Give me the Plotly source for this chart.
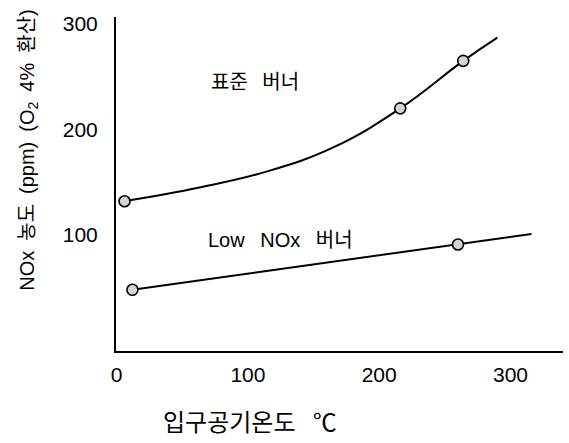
import plotly.graph_objects as go

# Standard burner (표준 버너): curve
std_curve_x = [6, 63, 114, 165, 216, 264, 290]
std_curve_y = [132, 145, 160, 183, 220, 265, 287]
std_mark_x = [6, 216, 264]
std_mark_y = [132, 220, 265]

# Low NOx burner
low_curve_x = [12, 260, 316]
low_curve_y = [48, 91, 101]
low_mark_x = [12, 260]
low_mark_y = [48, 91]

x_ticks = [0, 100, 200, 300]
y_ticks = [100, 200, 300]

LAT = "Liberation Sans, Arial, Noto Sans CJK KR, sans-serif"
KR = "Noto Sans CJK KR, Liberation Sans, sans-serif"

fig = go.Figure()
line = dict(color="black", width=2)
mk = dict(symbol="circle", size=11, color="#d4d4d4", line=dict(color="black", width=1.6))

fig.add_trace(go.Scatter(x=std_curve_x, y=std_curve_y, mode="lines",
                         line=dict(color="black", width=2, shape="spline", smoothing=1.2),
                         hoverinfo="skip"))
fig.add_trace(go.Scatter(x=low_curve_x, y=low_curve_y, mode="lines", line=line, hoverinfo="skip"))
fig.add_trace(go.Scatter(x=std_mark_x, y=std_mark_y, mode="markers", marker=mk))
fig.add_trace(go.Scatter(x=low_mark_x, y=low_mark_y, mode="markers", marker=mk))

fig.update_layout(
    width=569, height=443,
    margin=dict(l=116, r=6, t=17, b=92),
    paper_bgcolor="white", plot_bgcolor="white",
    showlegend=False,
    font=dict(family=LAT, color="black", size=21),
    xaxis=dict(range=[-0.5, 340], tickvals=x_ticks, showgrid=False, zeroline=False,
               showline=True, linecolor="black", linewidth=2, ticks="",
               ticklabelstandoff=4, tickfont=dict(family=LAT, size=21, color="black")),
    yaxis=dict(range=[-10, 306.6], tickvals=y_ticks, showgrid=False, zeroline=False,
               showline=True, linecolor="black", linewidth=2, ticks="",
               ticklabelstandoff=12, tickfont=dict(family=LAT, size=21, color="black")),
    annotations=[
        dict(text="NOx\u2002농도\u2002(ppm)\u2002(O<sub>2</sub>\u20024%\u2002환산)", xref="paper", yref="paper",
             x=-0.195, y=0.602, textangle=-90, showarrow=False,
             xanchor="center", yanchor="middle", font=dict(family=LAT, size=20)),
        dict(text="입구공기온도 \u2002℃", xref="paper", yref="paper",
             x=0.30, y=-0.207, showarrow=False, xanchor="center", yanchor="middle",
             font=dict(family=KR, size=24)),
        dict(text="표준\u2002 버너", x=105, y=246, showarrow=False,
             xanchor="center", yanchor="middle", font=dict(family=KR, size=20)),
        dict(text="Low\u2002 NOx\u2002 버너", x=125, y=95, showarrow=False,
             xanchor="center", yanchor="middle", font=dict(family=LAT, size=20)),
    ],
)

fig.write_html("out.html")
